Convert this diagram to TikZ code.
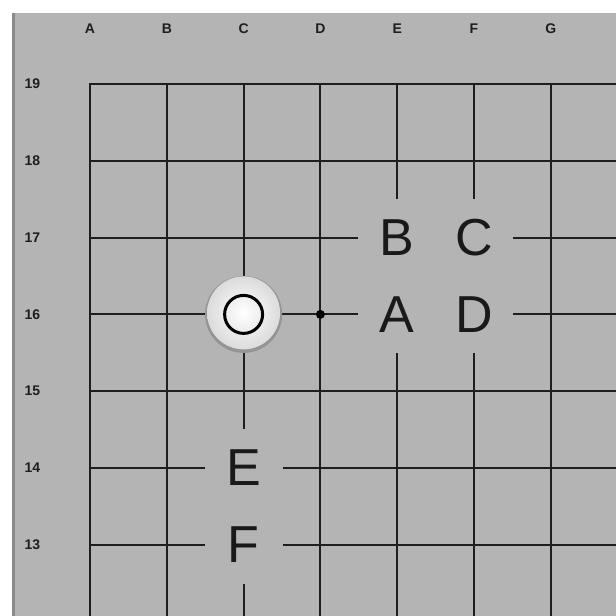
\documentclass[tikz,border=0pt]{standalone}
\usepackage{fontspec}
\setmainfont{Liberation Sans}
\usetikzlibrary{positioning}
\usepackage{xcolor}
\definecolor{goBoard}{HTML}{B4B4B4}
\definecolor{goLine}{HTML}{1E1E1E}
\definecolor{goEdge}{HTML}{8A8A8A}
\tikzset{
    % board elements
    gridline/.style={goLine, line width=2pt},
    coordlabel/.style={font=\fontsize{14}{14}\selectfont\bfseries, text=goLine, inner sep=0pt},
    marklabel/.style={fill=goBoard, minimum size=78pt, inner sep=0pt, font=\fontsize{52}{52}\selectfont, text=black!90},
    stonebase/.style={circle, minimum size=77pt, inner sep=0pt, fill=black!42},
    stonetop/.style={circle, minimum size=73pt, inner sep=0pt, shading=radial, inner color=white, outer color=black!14},
    ring/.style={circle, draw=black, line width=3pt, minimum size=38pt, inner sep=0pt},
    dotmark/.style={circle, fill=black, minimum size=9pt, inner sep=0pt}
}

\begin{document}
\begin{tikzpicture}[x=76.8pt, y=76.8pt]

    \useasboundingbox (-0.172,12.073) rectangle (7.849,20.094);

    % Board background
    \fill[white] (-0.172,12.073) rectangle (7.849,20.094);
    \fill[goBoard] (-0.016,12.073) rectangle (7.849,19.924);
    \fill[goEdge] (-0.016,12.073) rectangle (0.024,19.924);

    % Coordinates
    \foreach \c [count=\i] in {A,...,G}
        \node[coordlabel] (col\c) at (\i,19.716) {\c};
    \foreach \r in {19,...,12}
        \node[coordlabel] (row\r) at (0.25,\r) {\r};

    % Grid lines
    \draw[gridline] (7.849,19) -- (1,19) -- (1,12.073);
    \foreach \i in {2,...,7}
        \draw[gridline] (\i,19) -- (\i,12.073);
    \foreach \r in {12,...,18}
        \draw[gridline] (1,\r) -- (7.849,\r);

    % Stone and marks
    \node[stonebase] (stoneC) at (3,16) {};
    \node[stonetop] (stoneTop) at ([yshift=1.5pt]stoneC.center) {};
    \node[ring] (ringC) at (3,16) {};
    \node[dotmark] (dotD) at (4,16) {};

    \node[marklabel] (ptA) at (5,16) {A};
    \node[marklabel] (ptB) at (5,17) {B};
    \node[marklabel] (ptC) at (6,17) {C};
    \node[marklabel] (ptD) at (6,16) {D};
    \node[marklabel] (ptE) at (3,14) {E};
    \node[marklabel] (ptF) at (3,13) {F};

\end{tikzpicture}
\end{document}
